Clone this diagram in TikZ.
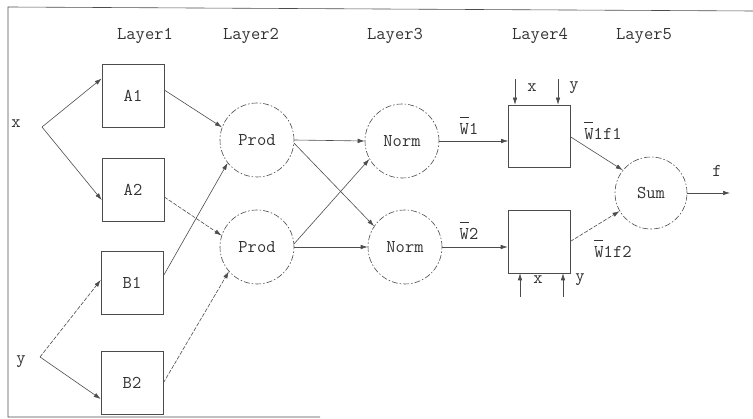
\documentclass[tikz,border=0pt]{standalone}
\usepackage{fontspec}
\usetikzlibrary{arrows.meta}
\newcommand{\barW}{\rlap{\raisebox{0.95em}{\rule{0.5em}{0.6pt}}}W}
\begin{document}
\begin{tikzpicture}[x=1pt,y=-1pt,
  every node/.style={font=\ttfamily\fontsize{18}{20}\selectfont, text=black!80},
  ink/.style={draw=black!70, line width=0.6pt},
  arr/.style={ink, -{Latex[length=7pt,width=4.5pt]}},
  darr/.style={arr, dash pattern=on 4pt off 1.5pt},
  boxnode/.style={ink, rectangle, minimum width=62pt, minimum height=63pt, inner sep=0pt},
  circnode/.style={ink, circle, minimum size=74pt, inner sep=0pt, dash pattern=on 6pt off 2pt on 1.5pt off 2pt},
  lbl/.style={inner sep=0pt}]
\useasboundingbox (0,0) rectangle (753,419);
% frame
\draw[ink] (320,417) -- (8,417) -- (8,7) -- (753,11);
% layer labels
\node[lbl] (L1) at (145,36) {Layer1};
\node[lbl] (L2) at (251,36) {Layer2};
\node[lbl] (L3) at (395,36) {Layer3};
\node[lbl] (L4) at (540,36) {Layer4};
\node[lbl] (L5) at (644,36) {Layer5};
% inputs
\node[lbl] (xin) at (16,124) {x};
\node[lbl] (yin) at (21,362) {y};
\coordinate (xb) at (42,127);
\coordinate (yb) at (40,357);
% layer 1
\node[boxnode] (A1) at (133,95.5) {A1};
\node[boxnode] (A2) at (133,190) {A2};
\node[boxnode] (B1) at (132,283) {B1};
\node[boxnode] (B2) at (132,383) {B2};
% layer 2
\node[circnode] (P1) at (257,140) {Prod};
\node[circnode] (P2) at (257,247) {Prod};
% layer 3
\node[circnode] (N1) at (402,141) {Norm};
\node[circnode] (N2) at (405,247) {Norm};
% layer 4
\node[boxnode, minimum height=62pt] (T) at (539.5,136) {};
\node[boxnode] (Bx) at (539,241.5) {};
% layer 5
\node[circnode, minimum size=72pt] (S) at (651,193) {Sum};
\coordinate (fout) at (730,193);
\node[lbl] (f) at (717,171) {f};
% input edges
\draw[arr] (xb) -- ([yshift=17pt]A1.west);
\draw[arr] (xb) -- ([yshift=-10pt]A2.west);
\draw[darr] (yb) -- ([yshift=3pt]B1.west);
\draw[arr] (yb) -- ([yshift=-16pt]B2.west);
% layer1 -> layer2
\draw[arr] ([yshift=5.5pt]A1.east) -- (P1.160);
\draw[darr] ([yshift=-7pt]A2.east) -- (P2.162);
\draw[arr] ([yshift=7pt]B1.east) -- (P1.218);
\draw[darr] (B2.east) -- (P2.221);
% layer2 -> layer3
\draw[arr] (P1.east) -- (N1.west);
\draw[arr] (P1.-5) -- (N2.146);
\draw[arr] (P2.5) -- (N1.209);
\draw[arr] (P2.east) -- (N2.west);
% layer3 -> layer4
\draw[arr] (N1.east) -- (N1.east -| T.west);
\draw[arr] (N2.east) -- (N2.east -| Bx.west);
\node[lbl] (w1) at (469,126) {\barW1};
\node[lbl] (w2) at (469,231) {\barW2};
% side inputs of layer 4
\coordinate (tx) at (515,79);
\coordinate (ty) at (558,79);
\draw[arr] (tx) -- (tx |- T.north);
\draw[arr] (ty) -- (ty |- T.north);
\node[lbl] (txl) at (532,88) {x};
\node[lbl] (tyl) at (574,88) {y};
\coordinate (bx) at (520,297);
\coordinate (by) at (563,297);
\draw[arr] (bx) -- (bx |- Bx.south);
\draw[arr] (by) -- (by |- Bx.south);
\node[lbl] (bxl) at (538,280) {x};
\node[lbl] (byl) at (580,280) {y};
% layer4 -> layer5
\draw[arr] ([yshift=-1pt]T.east) -- (S.141);
\draw[darr] (Bx.east) -- (S.210);
\node[lbl] (w1f1) at (603,131) {\barW1f1};
\node[lbl] (w1f2) at (613,249) {\barW1f2};
% output
\draw[arr] (S.east) -- (fout);
\end{tikzpicture}
\end{document}
